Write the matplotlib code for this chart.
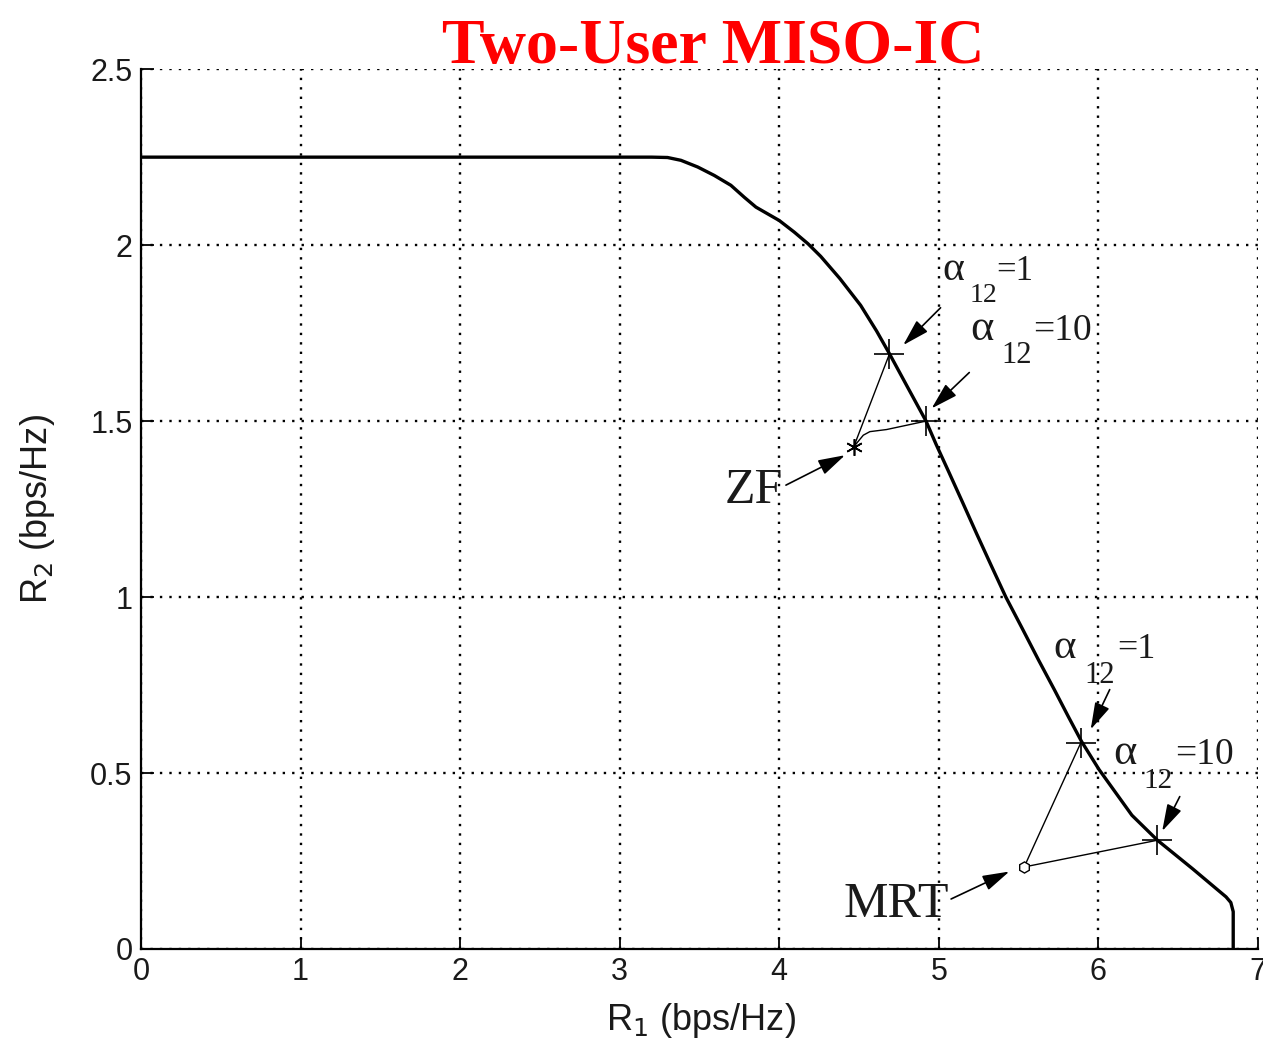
import numpy as np
import matplotlib
matplotlib.use("Agg")
import matplotlib.pyplot as plt

# --- data ---
# Pareto boundary of the rate region
r1_boundary = [0.0, 3.20, 3.30, 3.384, 3.489, 3.593, 3.697, 3.781, 3.854, 3.927, 4.0,
               4.094, 4.18, 4.26, 4.38, 4.51, 4.61, 4.69, 4.80, 4.92, 4.983, 5.064,
               5.149, 5.238, 5.33, 5.42, 5.518, 5.625, 5.725, 5.812, 5.894, 6.004,
               6.21, 6.37, 6.59, 6.75, 6.80, 6.83, 6.845, 6.845]
r2_boundary = [2.25, 2.25, 2.249, 2.241, 2.222, 2.198, 2.170, 2.136, 2.108, 2.089, 2.070,
               2.037, 2.004, 1.968, 1.905, 1.829, 1.756, 1.692, 1.600, 1.500, 1.434, 1.354,
               1.269, 1.179, 1.088, 1.0, 0.915, 0.821, 0.736, 0.660, 0.590, 0.510,
               0.380, 0.309, 0.228, 0.167, 0.148, 0.132, 0.106, 0.0]

# ZF: alpha12=1 point -> ZF point -> alpha12=10 point
zf_r1 = [4.69, 4.467, 4.527, 4.568, 4.673, 4.92]
zf_r2 = [1.69, 1.427, 1.460, 1.470, 1.476, 1.50]
zf_point = (4.467, 1.427)
zf_alpha_r1 = [4.69, 4.92]
zf_alpha_r2 = [1.69, 1.50]

# MRT: alpha12=1 point -> MRT point -> alpha12=10 point
mrt_r1 = [5.89, 5.535, 6.37]
mrt_r2 = [0.586, 0.233, 0.309]
mrt_point = (5.535, 0.233)
mrt_alpha_r1 = [5.89, 6.37]
mrt_alpha_r2 = [0.586, 0.309]

xticks = [0, 1, 2, 3, 4, 5, 6, 7]
yticks = [0, 0.5, 1, 1.5, 2, 2.5]
ytick_labels = ["0", "0.5", "1", "1.5", "2", "2.5"]

serif = ["Liberation Serif", "DejaVu Serif"]
sans = ["Liberation Sans", "DejaVu Sans"]
ink = "#1a1a1a"

fig = plt.figure(figsize=(12.63, 10.48), dpi=100)
ax = fig.add_axes([0.1116, 0.0945, 0.8844, 0.8395])

ax.plot(r1_boundary, r2_boundary, color="k", lw=2.4, solid_joinstyle="round")
ax.plot(zf_r1, zf_r2, color="k", lw=1.0)
ax.plot(mrt_r1, mrt_r2, color="k", lw=1.0)
ax.plot(zf_alpha_r1, zf_alpha_r2, ls="none", marker="+", ms=22, mew=1.2, color="k")
ax.plot(mrt_alpha_r1, mrt_alpha_r2, ls="none", marker="+", ms=22, mew=1.2, color="k")
ax.plot(*zf_point, ls="none", marker=(6, 2, 0), ms=12, mew=1.2, color="k")
ax.plot(*mrt_point, ls="none", marker="h", ms=8, mew=1.0, mfc="white", mec="k")

ax.set_xlim(0, 7)
ax.set_ylim(0, 2.5)
ax.set_xticks(xticks)
ax.set_yticks(yticks)
ax.set_yticklabels(ytick_labels)
for lab in ax.get_xticklabels() + ax.get_yticklabels():
    lab.set_family(sans)
    lab.set_fontsize(22)
    lab.set_color(ink)
ax.tick_params(direction="in", length=9, width=1.3, pad=6)
ax.spines["top"].set_visible(False)
ax.spines["right"].set_visible(False)
ax.spines["left"].set_linewidth(1.6)
ax.spines["bottom"].set_linewidth(1.6)
ax.grid(True, color="k", ls=(0, (1, 3)), lw=1.7)
ax.set_axisbelow(True)

fig.text(0.030, 0.514, r"R$_2$ (bps/Hz)", rotation=90, ha="center", va="center",
         fontsize=26, family=sans, color=ink)
fig.text(0.555, 0.026, r"R$_1$ (bps/Hz)", ha="center", va="center",
         fontsize=26, family=sans, color=ink)
fig.text(0.565, 0.94, "Two-User MISO-IC", ha="center", va="baseline",
         fontsize=46, fontweight="bold", family=serif, color="red")


def alpha_label(xa, xs, xe, yb, ys, value, size, sub_size):
    ax.text(xa, yb, "\u03b1", fontsize=size + 5, family=serif, color=ink,
            ha="left", va="baseline")
    ax.text(xs, ys, "12", fontsize=sub_size, family=serif, color=ink,
            ha="left", va="baseline")
    ax.text(xe, yb, "=" + value, fontsize=size, family=serif, color=ink,
            ha="left", va="baseline")


alpha_label(5.025, 5.194, 5.363, 1.90, 1.838, "1", 25, 20)
alpha_label(5.195, 5.395, 5.589, 1.73, 1.665, "10", 27, 22)
alpha_label(5.72, 5.91, 6.119, 0.827, 0.756, "1", 26, 22)
alpha_label(6.095, 6.285, 6.483, 0.527, 0.456, "10", 27, 21)

ax.text(4.023, 1.267, "ZF", fontsize=36, family=serif, color=ink,
        ha="right", va="baseline")
ax.text(5.067, 0.091, "MRT", fontsize=36, family=serif, color=ink,
        ha="right", va="baseline")

arrow = dict(arrowstyle="-|>,head_length=1.1,head_width=0.32", mutation_scale=15,
             lw=1.2, color="k", shrinkA=0, shrinkB=0)
arrows = [((5.011, 1.822), (4.777, 1.716)),
          ((5.191, 1.638), (4.955, 1.536)),
          ((4.042, 1.318), (4.412, 1.403)),
          ((6.071, 0.737), (5.952, 0.624)),
          ((6.51, 0.433), (6.40, 0.335)),
          ((5.077, 0.142), (5.442, 0.220))]
for tail, head in arrows:
    ax.annotate("", xy=head, xytext=tail, arrowprops=arrow)

fig.savefig("out.png", dpi=100)
